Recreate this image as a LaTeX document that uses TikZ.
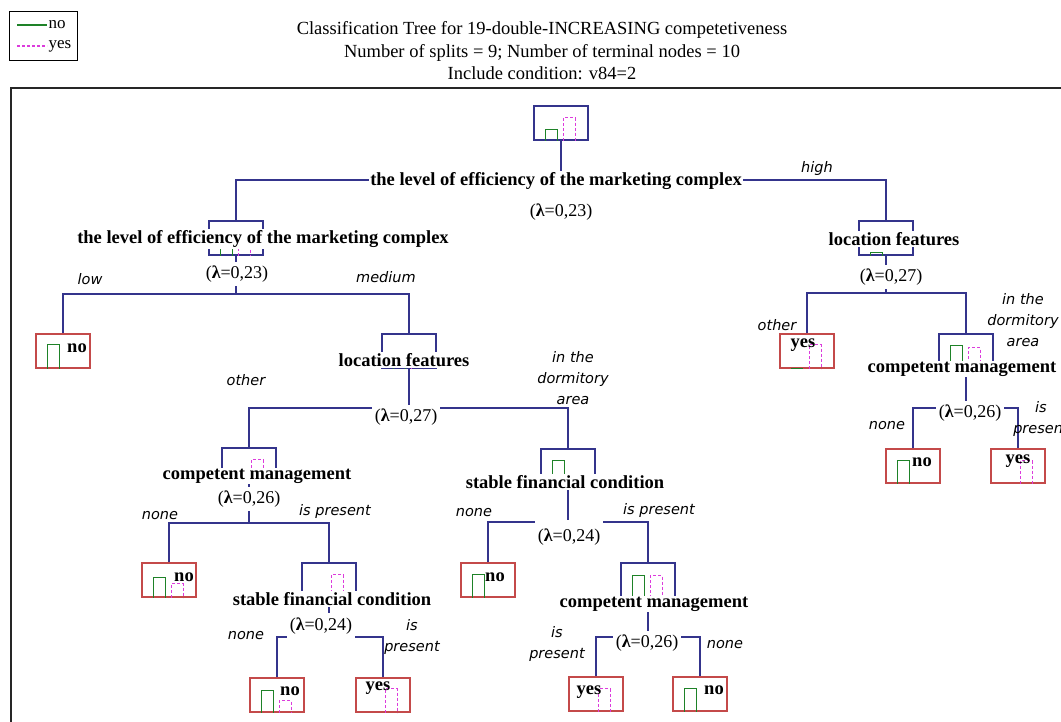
\documentclass[tikz,border=0pt]{standalone}
\usepackage{fontspec}
\setmainfont{Liberation Serif}
\newfontfamily\branchfont{DejaVu Sans}
\usepackage{tikz}
\usetikzlibrary{positioning}
\definecolor{treeblue}{RGB}{52,52,140}
\definecolor{leafred}{RGB}{196,74,74}
\definecolor{nogreen}{RGB}{30,130,40}
\definecolor{yesmag}{RGB}{220,60,220}
\newcommand{\nobar}[2]{\draw[nobar] ([xshift=12pt]#1.south west) -- ++(0,-#2) -- ++(12,0) -- ++(0,#2);}
\newcommand{\yesbar}[2]{\draw[yesbar] ([xshift=30pt]#1.south west) -- ++(0,-#2) -- ++(12,0) -- ++(0,#2);}
\begin{document}
\begin{tikzpicture}[x=1pt,y=1pt,yscale=-1,
    splitbox/.style={draw=treeblue,line width=1.1pt,minimum width=54pt,minimum height=34pt,inner sep=0pt},
    leafbox/.style={draw=leafred,line width=1.1pt,minimum width=54pt,minimum height=34pt,inner sep=0pt},
    edge/.style={draw=treeblue,line width=1.1pt},
    nobar/.style={draw=nogreen,line width=1.3pt},
    yesbar/.style={draw=yesmag,line width=1.3pt,dash pattern=on 3pt off 2pt},
    splittxt/.style={fill=white,inner sep=1pt,font=\fontsize{18.5}{20}\selectfont\bfseries},
    lambdatxt/.style={fill=white,inner xsep=3pt,inner ysep=0pt,minimum height=24pt,font=\fontsize{18}{20}\selectfont},
    leaftxt/.style={inner sep=0pt,font=\fontsize{18.5}{20}\selectfont\bfseries},
    branchtxt/.style={inner sep=0pt,align=center,font=\fontsize{14.5}{21}\selectfont\branchfont\itshape},
    titletxt/.style={inner sep=0pt,align=center,font=\fontsize{18.5}{22.5}\selectfont},
    legendtxt/.style={inner sep=1pt,font=\fontsize{17}{18}\selectfont}]
    \useasboundingbox (0,0) rectangle (1061,722);
    % frame and legend
    \draw[line width=1.6pt,black!85] (11,88) rectangle (1080,740);
    \node[draw=black,line width=0.8pt,minimum width=68pt,minimum height=49pt,inner sep=0pt] (legend) at (43,35.5) {};
    \draw[nobar] (17,25) -- (47,25) node[legendtxt,right] (lgno) {no};
    \draw[yesbar] (17,46) -- (47,46) node[legendtxt,right] (lgyes) {yes};
    \node[titletxt] (title) at (542,51) {Classification Tree for 19-double-INCREASING competetiveness\\Number of splits = 9; Number of terminal nodes = 10\\Include condition: v84=2};
    % split nodes
    \node[splitbox] (n0) at (561,123) {};
    \node[splitbox] (n1) at (236,238) {};
    \node[splitbox] (n2) at (886,238) {};
    \node[splitbox] (n3) at (409,351) {};
    \node[splitbox] (n4) at (966,351) {};
    \node[splitbox] (n5) at (249,465) {};
    \node[splitbox] (n6) at (568,466) {};
    \node[splitbox] (n7) at (329,580) {};
    \node[splitbox] (n8) at (648,580) {};
    % terminal nodes
    \node[leafbox] (l1) at (63,351) {};
    \node[leafbox] (l2) at (807,351) {};
    \node[leafbox] (l3) at (913,466) {};
    \node[leafbox] (l4) at (1018,466) {};
    \node[leafbox] (l5) at (169,580) {};
    \node[leafbox] (l6) at (488,580) {};
    \node[leafbox] (l7) at (277,695) {};
    \node[leafbox] (l8) at (383,695) {};
    \node[leafbox] (l9) at (596,694) {};
    \node[leafbox] (l10) at (700,694) {};
    % histograms
    \nobar{n0}{11} \yesbar{n0}{23}
    \nobar{n1}{12} \yesbar{n1}{12}
    \nobar{n2}{3}
    \nobar{n3}{14} \yesbar{n3}{14}
    \nobar{n4}{23} \yesbar{n4}{21}
    \nobar{n5}{10} \yesbar{n5}{23}
    \nobar{n6}{23} \yesbar{n6}{8}
    \nobar{n7}{6} \yesbar{n7}{23}
    \nobar{n8}{22} \yesbar{n8}{22}
    \nobar{l1}{24}
    \nobar{l2}{0} \yesbar{l2}{24}
    \nobar{l3}{23}
    \yesbar{l4}{23}
    \nobar{l5}{20} \yesbar{l5}{14}
    \nobar{l6}{23}
    \nobar{l7}{22} \yesbar{l7}{12}
    \yesbar{l8}{24}
    \yesbar{l9}{23}
    \nobar{l10}{23}
    % branches
    \coordinate (j0) at (561,180);
    \coordinate (j1) at (236,294);
    \coordinate (j2) at (886,293);
    \coordinate (j3) at (409,408);
    \coordinate (j4) at (966,408);
    \coordinate (j5) at (249,523);
    \coordinate (j6) at (568,522);
    \coordinate (j7) at (329,637);
    \coordinate (j8) at (648,637);
    \draw[edge] (n0.south) -- (j0);
    \draw[edge] (n1.north) |- (j0) -| (n2.north);
    \draw[edge] (n1.south) -- (j1);
    \draw[edge] (l1.north) |- (j1) -| (n3.north);
    \draw[edge] (n2.south) -- (j2);
    \draw[edge] (l2.north) |- (j2) -| (n4.north);
    \draw[edge] (n3.south) -- (j3);
    \draw[edge] (n5.north) |- (j3) -| (n6.north);
    \draw[edge] (n4.south) -- (j4);
    \draw[edge] (l3.north) |- (j4) -| (l4.north);
    \draw[edge] (n5.south) -- (j5);
    \draw[edge] (l5.north) |- (j5) -| (n7.north);
    \draw[edge] (n6.south) -- (j6);
    \draw[edge] (l6.north) |- (j6) -| (n8.north);
    \draw[edge] (n7.south) -- (j7);
    \draw[edge] (l7.north) |- (j7) -| (l8.north);
    \draw[edge] (n8.south) -- (j8);
    \draw[edge] (l9.north) |- (j8) -| (l10.north);
    % split labels
    \node[splittxt] (t0) at (556,181) {the level of efficiency of the marketing complex};
    \node[splittxt] (t1) at (263,239) {the level of efficiency of the marketing complex};
    \node[splittxt] (t2) at (894,239) {location features};
    \node[splittxt] (t3) at (404,360) {location features};
    \node[splittxt] (t4) at (962,369) {competent management};
    \node[splittxt] (t5) at (257,476) {competent management};
    \node[splittxt] (t6) at (565,482) {stable financial condition};
    \node[splittxt] (t7) at (332,599) {stable financial condition};
    \node[splittxt] (t8) at (654,604) {competent management};
    \node[lambdatxt] (k0) at (561,212) {({\bfseries λ}=0,23)};
    \node[lambdatxt] (k1) at (237,274) {({\bfseries λ}=0,23)};
    \node[lambdatxt] (k2) at (891,277) {({\bfseries λ}=0,27)};
    \node[lambdatxt] (k3) at (406,417) {({\bfseries λ}=0,27)};
    \node[lambdatxt] (k4) at (970,413) {({\bfseries λ}=0,26)};
    \node[lambdatxt] (k5) at (249,499) {({\bfseries λ}=0,26)};
    \node[lambdatxt,minimum height=34pt] (k6) at (569,537) {({\bfseries λ}=0,24)};
    \node[lambdatxt,minimum height=26pt] (k7) at (321,626) {({\bfseries λ}=0,24)};
    \node[lambdatxt] (k8) at (647,643) {({\bfseries λ}=0,26)};
    % leaf labels
    \node[leaftxt] (c1) at (77,348) {no};
    \node[leaftxt] (c2) at (803,345) {yes};
    \node[leaftxt] (c3) at (922,462) {no};
    \node[leaftxt] (c4) at (1018,461) {yes};
    \node[leaftxt] (c5) at (184,577) {no};
    \node[leaftxt] (c6) at (495,577) {no};
    \node[leaftxt] (c7) at (290,691) {no};
    \node[leaftxt] (c8) at (378,688) {yes};
    \node[leaftxt] (c9) at (589,692) {yes};
    \node[leaftxt] (c10) at (714,690) {no};
    % branch conditions
    \node[branchtxt] (b1) at (817,169) {high};
    \node[branchtxt] (b2) at (90,279) {low};
    \node[branchtxt] (b3) at (386,277) {medium};
    \node[branchtxt] (b4) at (246,380) {other};
    \node[branchtxt] (b5) at (573,378) {in the\\dormitory\\area};
    \node[branchtxt] (b6) at (777,325) {other};
    \node[branchtxt] (b7) at (1023,320) {in the\\dormitory\\area};
    \node[branchtxt] (b8) at (887,426) {none};
    \node[branchtxt] (b9) at (1041,419) {is\\present};
    \node[branchtxt] (b10) at (160,516) {none};
    \node[branchtxt] (b11) at (335,511) {is present};
    \node[branchtxt] (b12) at (246,636) {none};
    \node[branchtxt] (b13) at (412,637) {is\\present};
    \node[branchtxt] (b14) at (474,513) {none};
    \node[branchtxt] (b15) at (659,510) {is present};
    \node[branchtxt] (b16) at (557,644) {is\\present};
    \node[branchtxt] (b17) at (725,645) {none};
\end{tikzpicture}
\end{document}
